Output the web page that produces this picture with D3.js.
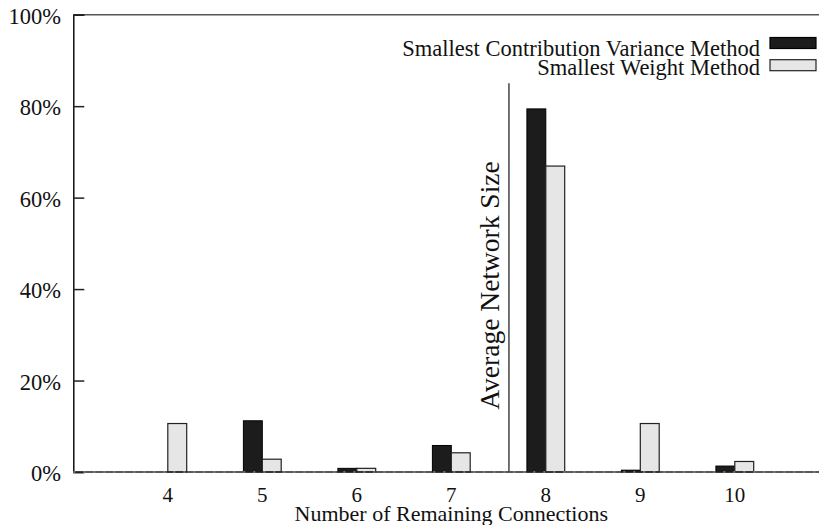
<!DOCTYPE html>
<html>
<head>
<meta charset="utf-8">
<script src="https://cdn.jsdelivr.net/npm/d3@7"></script>
<style>
  body { margin: 0; background: #fff; }
  text { font-family: "Liberation Serif", "Times New Roman", serif; fill: #111; }
</style>
</head>
<body>
<script type="text/javascript">
    const Width = 819;
    const Height = 525;

    // data
    const categories = [4, 5, 6, 7, 8, 9, 10];
    const varianceMethod = [0, 11.2, 0.8, 5.8, 79.4, 0.4, 1.3];
    const weightMethod = [10.6, 2.8, 0.8, 4.2, 66.9, 10.6, 2.3];
    const yTicks = [0, 20, 40, 60, 80, 100];
    const seriesNames = ["Smallest Contribution Variance Method", "Smallest Weight Method"];
    const avgSize = 7.61;
    const avgLineTop = 85;

    const margin = { left: 73.3, top: 14.7, bottom: 53 };
    const x = d3.scaleLinear().domain([3, 11]).range([margin.left, margin.left + 8 * 94.5]);
    const y = d3.scaleLinear().domain([0, 100]).range([Height - margin.bottom, margin.top]);
    const barW = 0.2;
    const fs = 22.5;

    const svg = d3.select("body")
      .append("svg")
      .attr("width", Width)
      .attr("height", Height);

    // top border
    svg.append("line")
      .attr("x1", x(3)).attr("x2", Width)
      .attr("y1", y(100)).attr("y2", y(100))
      .attr("stroke", "#555").attr("stroke-width", 1.5);

    // y axis
    const yAxis = svg.append("g")
      .attr("transform", "translate(" + x(3) + ",0)")
      .call(d3.axisRight(y).tickValues(yTicks).tickSize(11).tickFormat(""));
    yAxis.select(".domain").attr("stroke", "#111").attr("stroke-width", 1.5);
    yAxis.selectAll(".tick line").attr("stroke", "#222").attr("stroke-width", 1.5);

    svg.selectAll(".ylab")
      .data(yTicks)
      .enter()
      .append("text")
      .attr("class", "ylab")
      .attr("x", 61)
      .attr("y", function (d) { return y(d) + 9; })
      .attr("text-anchor", "end")
      .attr("font-size", fs)
      .text(function (d) { return d + "%"; });

    // bars
    const black = categories.map(function (c, i) { return { c: c, v: varianceMethod[i] }; })
      .filter(function (d) { return d.v > 0; });
    const light = categories.map(function (c, i) { return { c: c, v: weightMethod[i] }; })
      .filter(function (d) { return d.v > 0; });

    svg.selectAll(".bv")
      .data(black)
      .enter()
      .append("rect")
      .attr("x", function (d) { return x(d.c - barW); })
      .attr("width", function (d) { return x(d.c) - x(d.c - barW); })
      .attr("y", function (d) { return y(d.v); })
      .attr("height", function (d) { return y(0) - y(d.v); })
      .attr("fill", "#1c1c1c")
      .attr("stroke", "#000")
      .attr("stroke-width", 1);

    svg.selectAll(".bw")
      .data(light)
      .enter()
      .append("rect")
      .attr("x", function (d) { return x(d.c); })
      .attr("width", function (d) { return x(d.c + barW) - x(d.c); })
      .attr("y", function (d) { return y(d.v); })
      .attr("height", function (d) { return y(0) - y(d.v); })
      .attr("fill", "#e6e6e6")
      .attr("stroke", "#222")
      .attr("stroke-width", 1.2);

    // baseline (solid + dotted zero line)
    svg.append("line")
      .attr("x1", x(3)).attr("x2", Width)
      .attr("y1", y(0)).attr("y2", y(0))
      .attr("stroke", "#222").attr("stroke-width", 1.5);
    svg.append("line")
      .attr("x1", x(3)).attr("x2", Width)
      .attr("y1", y(0)).attr("y2", y(0))
      .attr("stroke", "#888").attr("stroke-width", 1.5)
      .attr("stroke-dasharray", "2,8");

    // x tick labels
    svg.selectAll(".xlab")
      .data(categories)
      .enter()
      .append("text")
      .attr("x", function (d) { return x(d); })
      .attr("y", 501.5)
      .attr("text-anchor", "middle")
      .attr("font-size", 21)
      .text(function (d) { return d; });

    svg.append("text")
      .attr("x", (x(3) + x(11)) / 2)
      .attr("y", 520.5)
      .attr("text-anchor", "middle")
      .attr("font-size", 22)
      .text("Number of Remaining Connections");

    // average network size marker
    svg.append("line")
      .attr("x1", x(avgSize)).attr("x2", x(avgSize))
      .attr("y1", y(avgLineTop)).attr("y2", y(0))
      .attr("stroke", "#444").attr("stroke-width", 1.5);
    svg.append("text")
      .attr("transform", "translate(499," + 285.5 + ") rotate(-90)")
      .attr("text-anchor", "middle")
      .attr("font-size", 27.5)
      .text("Average Network Size");

    // legend
    const legend = svg.selectAll(".leg")
      .data(seriesNames)
      .enter()
      .append("g");
    legend.append("text")
      .attr("x", 760)
      .attr("y", function (d, i) { return 55.7 + i * 19.5; })
      .attr("text-anchor", "end")
      .attr("font-size", fs)
      .text(function (d) { return d; });
    legend.append("rect")
      .attr("x", 770)
      .attr("y", function (d, i) { return 37.5 + i * 22.2; })
      .attr("width", 46)
      .attr("height", 11)
      .attr("fill", function (d, i) { return i === 0 ? "#1c1c1c" : "#e6e6e6"; })
      .attr("stroke", function (d, i) { return i === 0 ? "#000" : "#222"; })
      .attr("stroke-width", 1.2);
</script>
</body>
</html>
